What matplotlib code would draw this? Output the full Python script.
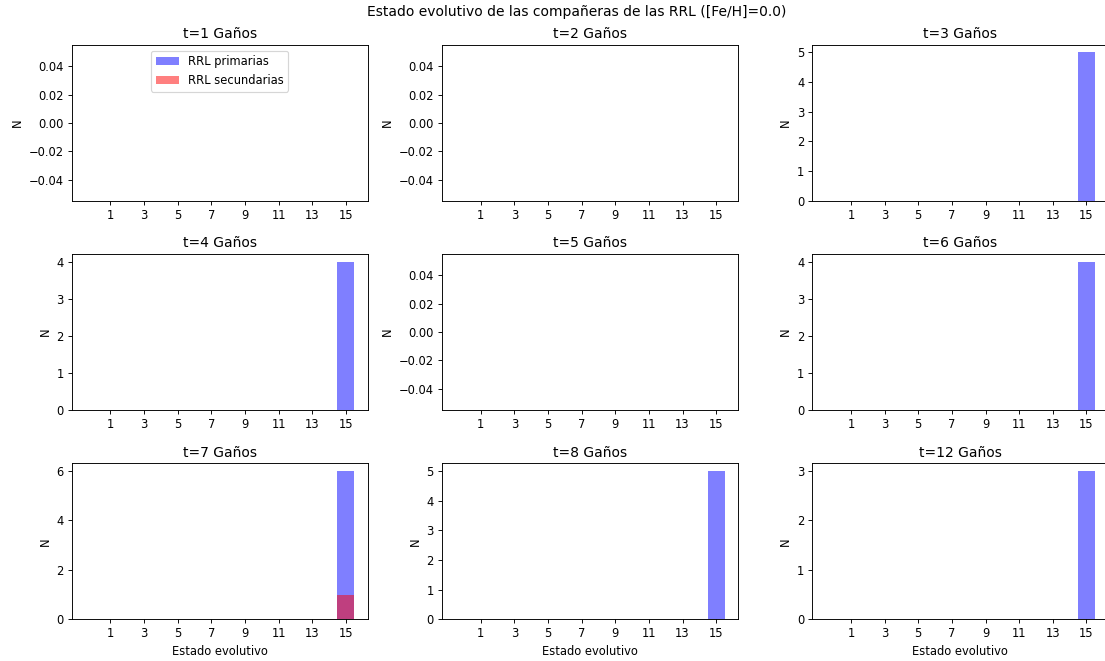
import numpy as np
import matplotlib
matplotlib.use('Agg')
import matplotlib.pyplot as plt

# edades (Gaños) y estado evolutivo de las compañeras en cada una
edades = [1, 2, 3, 4, 5, 6, 7, 8, 12]
primarias = [
    [],
    [],
    [15, 15, 15, 15, 15],
    [15, 15, 15, 15],
    [],
    [15, 15, 15, 15],
    [15, 15, 15, 15, 15, 15],
    [15, 15, 15, 15, 15],
    [15, 15, 15],
]
secundarias = [
    [],
    [],
    [],
    [],
    [],
    [],
    [15],
    [],
    [],
]
bins = np.arange(-0.5, 16, 1)
ticks = list(range(1, 16, 2))

DPI = 83
fig, axes = plt.subplots(3, 3, figsize=(1105 / DPI, 661 / DPI), dpi=DPI)
fig.subplots_adjust(left=71.7 / 1105, right=1108.3 / 1105,
                    bottom=(661 - 619.3) / 661, top=(661 - 45) / 661,
                    wspace=0.251, hspace=0.343)
fig.suptitle('Estado evolutivo de las compañeras de las RRL ([Fe/H]=0.0)',
             x=577 / 1105, y=1 - 12 / 661, va='center')

for i, ax in enumerate(axes.flat):
    ax.hist(primarias[i], bins=bins, color='b', alpha=0.5, label='RRL primarias')
    ax.hist(secundarias[i], bins=bins, color='r', alpha=0.5, label='RRL secundarias')
    ax.set_xticks(ticks)
    ax.set_title('t=%d Gaños' % edades[i])
    ax.set_ylabel('N')
    if i >= 6:
        ax.set_xlabel('Estado evolutivo')
    if i == 0:
        ax.legend(loc='upper center')

fig.savefig('out.png', dpi=DPI)
